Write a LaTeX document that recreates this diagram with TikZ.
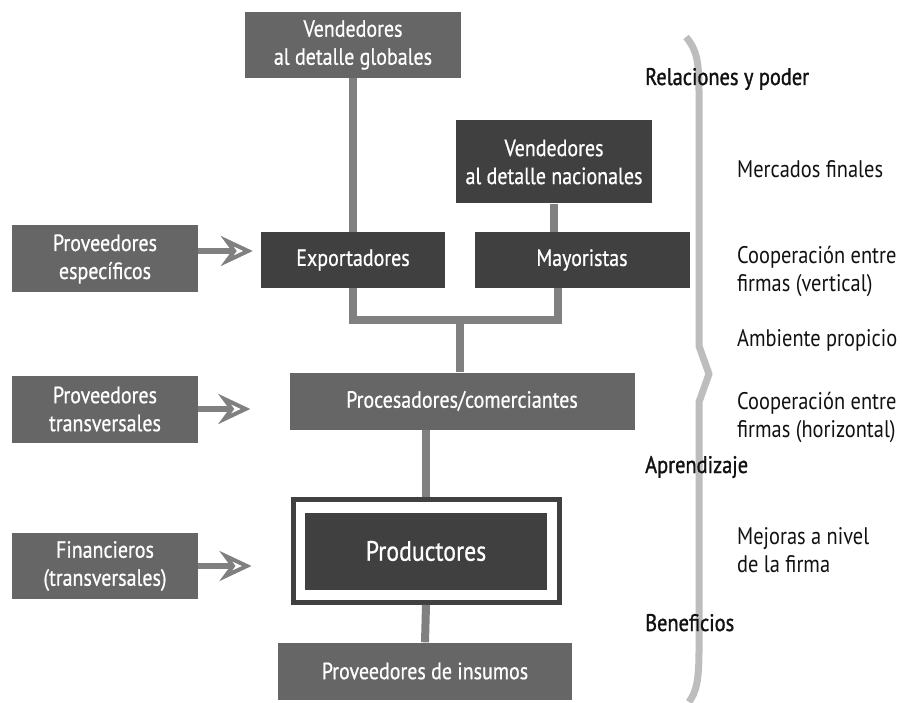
\documentclass[tikz,border=0pt]{standalone}
\usepackage{fontspec}
\setmainfont{PT Sans}[FakeStretch=0.85]
\newfontfamily\headfont{PT Sans}[FakeStretch=0.85, FakeBold=1.2]
\newfontfamily\boxfont{PT Sans}[FakeStretch=0.85, FakeBold=0.7]
\usetikzlibrary{arrows.meta}

\definecolor{boxmid}{HTML}{666666}
\definecolor{boxdark}{HTML}{404040}
\definecolor{linkgray}{HTML}{808080}
\definecolor{bracegray}{HTML}{BDBDBD}
\definecolor{inkblack}{HTML}{111111}

\begin{document}
\begin{tikzpicture}[x=1pt,y=-1pt,
  box/.style={fill=boxmid, text=white, align=center, inner sep=0pt,
    font=\fontsize{23.5}{28}\boxfont},
  darkbox/.style={box, fill=boxdark},
  link/.style={draw=linkgray, line width=8pt},
  feed/.style={draw=linkgray, line width=6pt,
    -{Stealth[open, length=32pt, width=30pt, inset=11pt, line width=4pt]}},
  side/.style={anchor=base west, inner sep=0pt, text=inkblack,
    font=\fontsize{24}{28}\selectfont},
  head/.style={side, font=\fontsize{24}{28}\headfont}]

% canvas
\fill[white] (0,0) rectangle (902,703);
\useasboundingbox (0,0) rectangle (902,703);

% chain boxes
\node[box, minimum width=216pt, minimum height=66pt] (vg) at (353,45) {Vendedores\\al detalle globales};
\node[darkbox, minimum width=196pt, minimum height=83pt] (vn) at (554,162) {Vendedores\\al detalle nacionales};
\node[darkbox, minimum width=184pt, minimum height=56pt] (ex) at (353,260) {Exportadores};
\node[darkbox, minimum width=215pt, minimum height=56pt] (ma) at (582,260) {Mayoristas};
\node[box, minimum width=345pt, minimum height=57pt] (pc) at (462,401) {Procesadores/comerciantes};
\node[draw=boxdark, line width=5pt, minimum width=266pt, minimum height=103pt, inner sep=0pt] (frame) at (426,551) {};
\node[darkbox, minimum width=242pt, minimum height=77pt, font=\fontsize{28}{32}\boxfont] (prod) at (426,551) {Productores};
\node[box, minimum width=294pt, minimum height=57pt] (pi) at (425,671) {Proveedores de insumos};

% supporting boxes on the left
\node[box, minimum width=186pt, minimum height=67pt] (pe) at (105,259) {Proveedores\\específicos};
\node[box, minimum width=186pt, minimum height=67pt] (pt) at (105,409) {Proveedores\\transversales};
\node[box, minimum width=186pt, minimum height=66pt] (fi) at (105,566) {Financieros\\(transversales)};

% chain links
\coordinate (split) at (460,320);
\draw[link] (vg.south) -- (vg.south |- ex.north);
\draw[link] (vn.south) -- (vn.south |- ma.north);
\draw[link] (ex.south) |- (split) -| ([xshift=-24pt]ma.south);
\draw[link] (split) -- (split |- pc.north);
\draw[link] (frame.north) -- (frame.north |- pc.south);
\draw[link] (frame.south) -- (pi.north);

% support arrows
\draw[feed, shorten >=8pt] ([yshift=8pt]pe.east) -- ([yshift=8pt]pe.east -| ex.west);
\draw[feed, shorten >=39pt] (pt.east) -- (pt.east -| pc.west);
\draw[feed, shorten >=39pt] (fi.east) -- (fi.east -| frame.west);

% brace
\draw[bracegray, line width=7pt, line join=round]
  (686,37) .. controls (697,50) and (699,62) .. (699,92)
  -- (699,346) -- (709,374) -- (699,402) -- (699,650)
  .. controls (699,682) and (696,692) .. (689,702);

% side labels
\node[head] (rel) at (645,85) {Relaciones y poder};
\node[side] (mf) at (737,178) {Mercados finales};
\node[side] (cv1) at (737,264) {Cooperación entre};
\node[side] (cv2) at (737,292) {firmas (vertical)};
\node[side] (amb) at (737,346) {Ambiente propicio};
\node[side] (ch1) at (737,409) {Cooperación entre};
\node[side] (ch2) at (737,437) {firmas (horizontal)};
\node[head] (apr) at (645,473) {Aprendizaje};
\node[side] (mj1) at (737,544) {Mejoras a nivel};
\node[side] (mj2) at (737,572) {de la firma};
\node[head] (ben) at (645,631) {Beneficios};
\end{tikzpicture}
\end{document}
